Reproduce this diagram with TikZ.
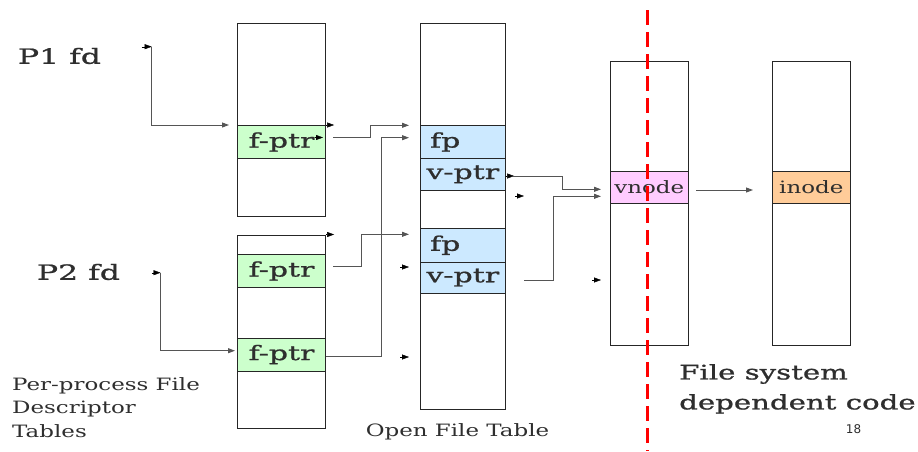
\documentclass[tikz,border=0pt]{standalone}
\usepackage{fontspec}
\setmainfont[FakeStretch=1.35]{DejaVu Serif}
\newfontfamily\heavyserif[FakeStretch=1.5, FakeBold=1.0]{DejaVu Serif}
\newfontfamily\noteserif[FakeStretch=1.46, FakeBold=1.0]{DejaVu Serif}
\newfontfamily\pgnumfont{DejaVu Sans}
\usetikzlibrary{arrows.meta,calc}
\definecolor{rowgreen}{HTML}{CCFFCC}
\definecolor{rowblue}{HTML}{CCE9FF}
\definecolor{rowpink}{HTML}{FFCCFF}
\definecolor{roworange}{HTML}{FFCC99}
\definecolor{txt}{HTML}{2E2E2E}
\definecolor{cline}{HTML}{555555}
\tikzset{
  tbl/.style={draw=black!85, line width=1.1pt, anchor=north west, inner sep=0pt},
  rowbox/.style={draw=black!85, line width=1.1pt, anchor=north west, inner sep=0pt, text=txt,
    font=\heavyserif\fontsize{20}{22}\selectfont},
  myarrow/.style={-{Triangle[length=7pt,width=5pt]}},
  conn/.style={draw=cline, line width=0.9pt, myarrow},
  lbl/.style={text=txt, inner sep=0pt}
}
\begin{document}
\begin{tikzpicture}[x=1pt,y=-1pt]
\useasboundingbox (0,0) rectangle (918,451);
% tables
\node[tbl, minimum width=88pt, minimum height=193.5pt] (t1) at (237,22.5) {};
\node[tbl, minimum width=88pt, minimum height=193.5pt] (t2) at (237,234.5) {};
\node[tbl, minimum width=85.5pt, minimum height=386.5pt] (oft) at (419.5,22.5) {};
\node[tbl, minimum width=77.5pt, minimum height=283.5pt] (vt) at (610,61) {};
\node[tbl, minimum width=77.5pt, minimum height=283.5pt] (it) at (772,61) {};
% rows
\node[rowbox, fill=rowgreen, minimum width=88pt, minimum height=33pt] (t1r) at (237,125) {f-ptr};
\node[rowbox, fill=rowgreen, minimum width=88pt, minimum height=33pt] (t2ra) at (237,254) {f-ptr};
\node[rowbox, fill=rowgreen, minimum width=88pt, minimum height=33pt] (t2rb) at (237,337.5) {f-ptr};
\node[rowbox, fill=rowblue, minimum width=85.5pt, minimum height=33pt, inner xsep=10pt, text width=65.5pt, align=left] (fpa) at (419.5,125) {fp};
\node[rowbox, fill=rowblue, minimum width=85.5pt, minimum height=31.5pt] (vpa) at (419.5,158) {v-ptr};
\node[rowbox, fill=rowblue, minimum width=85.5pt, minimum height=33.5pt, inner xsep=10pt, text width=65.5pt, align=left] (fpb) at (419.5,228) {fp};
\node[rowbox, fill=rowblue, minimum width=85.5pt, minimum height=31pt] (vpb) at (419.5,261.5) {v-ptr};
\node[rowbox, fill=rowpink, minimum width=77.5pt, minimum height=31.5pt, font=\fontsize{17}{19}\selectfont] (vn) at (610,171) {vnode};
\node[rowbox, fill=roworange, minimum width=77.5pt, minimum height=31.5pt, font=\fontsize{17}{19}\selectfont] (in) at (772,171) {inode};
% labels
\node[lbl, font=\heavyserif\fontsize{21}{23}\selectfont] (p1) at (59.5,56) {P1 fd};
\node[lbl, font=\heavyserif\fontsize{21}{23}\selectfont] (p2) at (78.5,272) {P2 fd};
\node[lbl, anchor=north west, align=left, font=\fontsize{17}{23.5}\selectfont] (ppt) at (12,377) {Per-process File\\Descriptor\\Tables};
\node[lbl, font=\fontsize{17}{19}\selectfont] (oftl) at (457.5,432) {Open File Table};
\node[lbl, anchor=north west, align=left, font=\noteserif\fontsize{20}{30}\selectfont] (fsd) at (679,364) {File system\\dependent code};
\node[lbl, font=\pgnumfont\fontsize{12}{14}\selectfont] (pg) at (853.5,429) {18};
% free ends
\coordinate (p1s) at (151.7,46.7);
\coordinate (p2s) at (160.5,272.7);
% red divider
\draw[red, line width=3.5pt, dash pattern=on 15pt off 7pt] (647.7,10) -- (647.7,451);
% P1 fd -> t1
\draw[myarrow, black] ($(p1s)+(-10,0)$) -- (p1s);
\draw[conn, shorten >=8pt] (p1s) |- (t1r.north west);
% P2 fd -> t2 second row
\draw[myarrow, black] ($(p2s)+(-9,0)$) -- (p2s);
\draw[conn] (p2s) |- (235,350.7);
% stray heads
\draw[myarrow, black] (t1r.north east) -- ++(8,0);
\draw[myarrow, black] (315,137.5) -- (323,137.5);
\draw[myarrow, black] (t2.north east) -- ++(8,0);
\draw[myarrow, black] (400,267) -- (409,267);
\draw[myarrow, black] (400,357) -- (409,357);
\draw[myarrow, black] (515,196) -- (524,196);
\draw[myarrow, black] (592,280) -- (601,280);
\draw[myarrow, black] (vpa.east |- 0,176) -- ++(8,0);
% f-ptr -> open file table
\draw[conn] (333,137.7) -- (370.7,137.7) -- (370.7,125.3) -- (409,125.3);
\draw[conn] (t2rb.east |- 0,356.7) -- (381,356.7) -- (381,137.7) -- (409,137.7);
\draw[conn] (333,266.7) -- (361.7,266.7) -- (361.7,234.3) -- (409,234.3);
% v-ptr -> vnode
\draw[conn] (513,176) -- (562,176) -- (562,189.3) -- (601,189.3);
\draw[conn] (524,280) -- (553,280) -- (553,196.3) -- (601,196.3);
% vnode -> inode
\draw[conn] (696,190) -- (753,190);
\end{tikzpicture}
\end{document}
